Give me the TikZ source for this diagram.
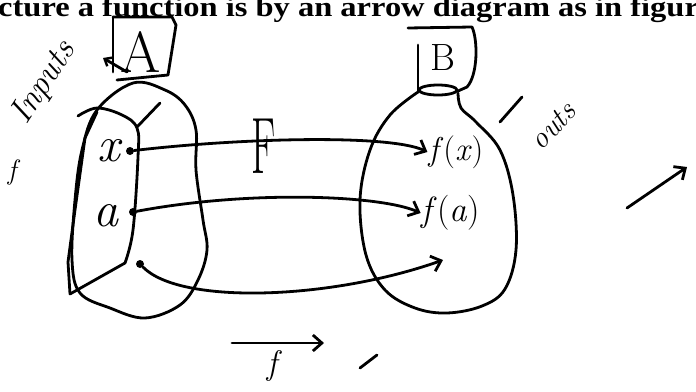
\documentclass[tikz,border=0pt]{standalone}
\usepackage{fontspec}
\newfontfamily\bookfont{Liberation Serif}
\usetikzlibrary{arrows.meta, positioning, calc}
\newcommand{\handsize}[1]{\fontsize{#1}{#1}\selectfont}
\tikzset{
  pen/.style={line width=2.8pt, line cap=round, line join=round},
  barb/.style={-{Straight Barb[length=9pt,width=16pt,line width=2.8pt]}},
  smallbarb/.style={-{Straight Barb[length=6pt,width=10pt,line width=2.4pt]}},
  elem/.style={circle, fill, inner sep=0pt, minimum size=8pt},
  hand/.style={inner sep=1pt},
}
\begin{document}
\begin{tikzpicture}[x=1pt,y=-1pt]
\useasboundingbox (0,0) rectangle (696,391);
% printed line of the book page, cut at the top
\node[anchor=base west, inner sep=0pt, xscale=1.16, font=\bookfont\bfseries\handsize{28}] (bookline) at (-2,16)
  {cture a function is by an arrow diagram as in figure};
% set A with its label box
\draw[pen] (113,17) -- (172,17) -- (176,25) -- (168,75) -- (117,80);
\draw[pen] (113,17) -- (113,72);
\node[hand, font=\handsize{58}] (labA) at (141,52) {A};
\draw[pen, smallbarb] (127,72) -- (103,58);
\draw[pen] plot[smooth cycle, tension=0.6] coordinates {(97,110) (133,83) (165,90) (185,105) (196,130)
  (196,170) (203,220) (207,250) (198,280) (180,305) (145,318) (110,308) (80,293) (72,260) (75,200) (82,150)};
\draw[pen] plot[smooth, tension=0.6] coordinates {(78,116) (97,108) (122,115) (137,128) (138,157)
  (133,230) (125,263)} -- (70,294) -- (68,262) -- (75,210) -- (85,138) -- (97,112);
\draw[pen] (137,127) -- (160,103);
% elements of A
\node[elem] (dx) at (130,151) {};
\node[elem] (da) at (133,212) {};
\node[elem] (dz) at (140,264) {};
\node[hand, font=\itshape\handsize{50}] (lx) at (109,151) {x};
\node[hand, font=\itshape\handsize{50}] (la) at (106,216) {a};
% set B with its label box
\draw[pen] (418,92) -- (418,45);
\draw[pen] (408,28) -- (472,27) .. controls (478,40) and (478,75) .. (467,87) -- (458,91);
\node[hand, font=\handsize{38}] (labB) at (443,58) {B};
\draw[pen] (438,90) ellipse [x radius=19, y radius=5];
\draw[pen] plot[smooth, tension=0.6] coordinates {(418,92) (390,115) (370,150) (360,200) (366,255)
  (385,290) (415,308) (447,313) (482,306) (505,289) (516,250) (513,195) (500,150) (476,122) (461,108) (458,93)};
% images in B
\node[hand, font=\handsize{33}] (fx) at (456,152) {\textit{f}(\textit{x})};
\node[hand, font=\handsize{35}] (fa) at (451,213) {\textit{f}(\textit{a})};
\coordinate (zend) at (443,260);
% the function arrows
\draw[pen, barb] (dx) .. controls (240,138) and (390,134) .. (fx.west);
\draw[pen, barb] (da) .. controls (250,190) and (380,195) .. (fa.west);
\draw[pen, barb] (dz) .. controls (180,305) and (330,300) .. (zend);
\node[hand, font=\handsize{80}, xscale=0.5] (bigF) at (264,146) {F};
% notes in the margins
\node[hand, font=\itshape\handsize{34}, rotate=57] (inputs) at (44,83) {Inputs};
\node[hand, font=\itshape\handsize{28}] (fleft) at (12,172) {f};
\node[hand, font=\itshape\handsize{30}, rotate=47] (outs) at (553,126) {outs};
\draw[pen] (500,122) -- (522,97);
\coordinate (bigtail) at (627,208);
\coordinate (bighead) at (687,167);
\draw[pen, barb] (bigtail) -- (bighead);
% f with its arrow below
\coordinate (ftail) at (232,343);
\coordinate (fhead) at (324,343);
\draw[pen, barb] (ftail) -- (fhead);
\node[hand, font=\itshape\handsize{34}] (fbot) at (272,366) {f};
\draw[pen] (360,368) -- (377,355);
\end{tikzpicture}
\end{document}
